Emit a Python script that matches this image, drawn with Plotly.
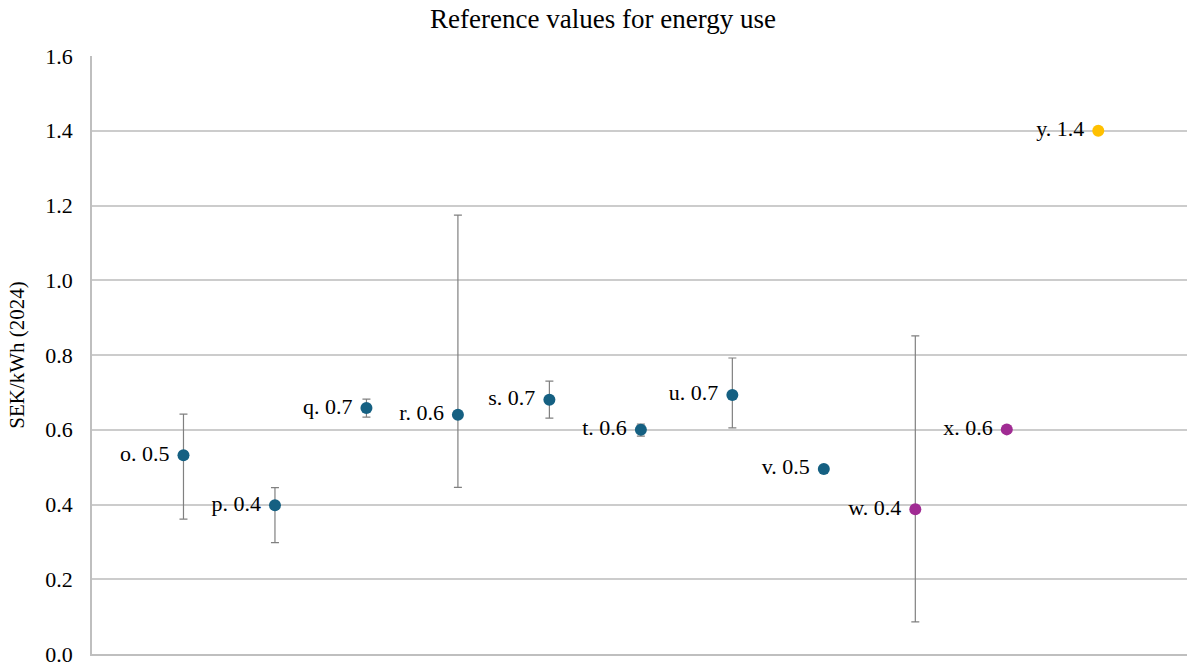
import plotly.graph_objects as go

categories = ["o", "p", "q", "r", "s", "t", "u", "v", "w", "x", "y"]
values = [0.532, 0.398, 0.658, 0.640, 0.680, 0.600, 0.693, 0.495, 0.387, 0.601, 1.400]
upper = [0.642, 0.445, 0.682, 1.174, 0.730, 0.615, 0.792, None, 0.851, None, None]
lower = [0.361, 0.298, 0.634, 0.446, 0.631, 0.583, 0.605, None, 0.086, None, None]
groups = ["a", "a", "a", "a", "a", "a", "a", "a", "b", "b", "c"]
group_colors = {"a": "#156082", "b": "#A02B93", "c": "#FFC000"}
y_ticks = [0.0, 0.2, 0.4, 0.6, 0.8, 1.0, 1.2, 1.4, 1.6]

xpos = list(range(1, len(categories) + 1))
plus = [None if u is None else u - v for u, v in zip(upper, values)]
minus = [None if l is None else v - l for l, v in zip(lower, values)]
labels = [f"{c}. {v:.1f} " for c, v in zip(categories, values)]
colors = [group_colors[g] for g in groups]

FONT = "Liberation Serif"

fig = go.Figure()
fig.add_trace(go.Scatter(
    x=xpos, y=values, mode="markers+text",
    text=labels, textposition="middle left",
    textfont=dict(family=FONT, size=22, color="#000000"),
    marker=dict(size=12, color=colors, line=dict(width=0)),
    error_y=dict(type="data", symmetric=False, array=plus, arrayminus=minus,
                 color="#808080", thickness=1.2, width=4),
    cliponaxis=False, showlegend=False,
))

fig.update_layout(
    width=1187, height=666,
    margin=dict(l=92, r=0, t=56, b=12),
    paper_bgcolor="white", plot_bgcolor="white",
    title=dict(text="Reference values for energy use", x=0.508, xanchor="center",
               y=0.972, yanchor="middle",
               font=dict(family=FONT, size=27, color="#000000")),
    font=dict(family=FONT, color="#000000"),
)
fig.update_xaxes(range=[0, 11.97], showticklabels=False, showgrid=False,
                 zeroline=False, showline=True, linecolor="#bfbfbf", linewidth=1.5,
                 mirror=False, ticks="")
fig.update_yaxes(range=[0, 1.6], tickvals=y_ticks,
                 ticktext=[f"{t:.1f}" for t in y_ticks],
                 tickfont=dict(family=FONT, size=22, color="#000000"),
                 showgrid=True, gridcolor="#cccccc", gridwidth=1.5,
                 zeroline=False, showline=True, linecolor="#bfbfbf", linewidth=1.5,
                 ticks="", ticklabelstandoff=13, ticklabeloverflow="allow",
                 title=dict(text="SEK/kWh (2024)", standoff=15,
                            font=dict(family=FONT, size=21, color="#000000")))

fig.write_html("out.html")
